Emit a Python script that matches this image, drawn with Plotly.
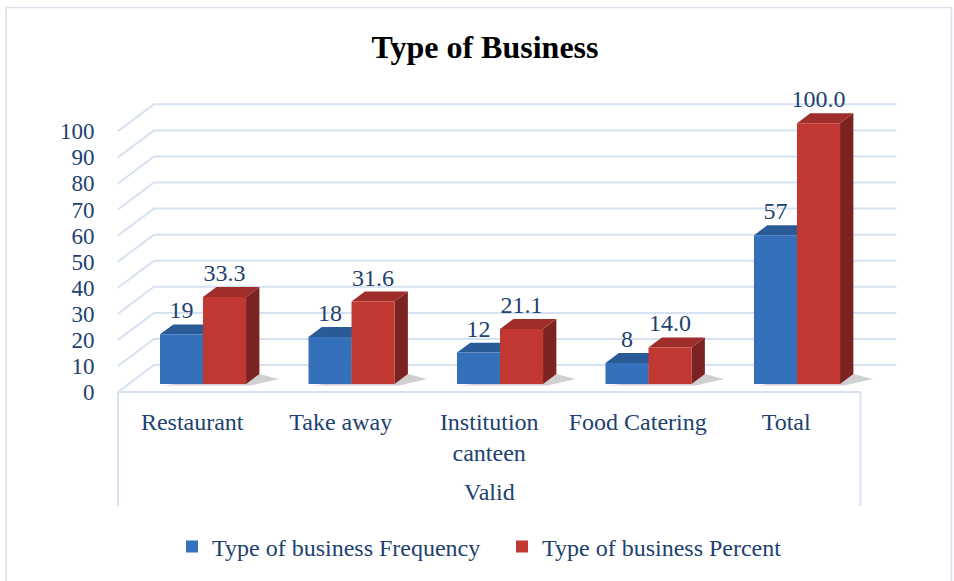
import plotly.graph_objects as go

# ---------------- data ----------------
CATEGORIES = ["Restaurant", "Take away", "Institution canteen", "Food Catering", "Total"]
TICK_LABELS = ["Restaurant", "Take away", "Institution<br>canteen", "Food Catering", "Total"]
GROUP_LABEL = "Valid"
FREQUENCY = [19, 18, 12, 8, 57]
PERCENT = [33.3, 31.6, 21.1, 14.0, 100.0]
SERIES_NAMES = ["Type of business Frequency", "Type of business Percent"]
Y_TICKS = list(range(0, 101, 10))
TITLE = "Type of Business"

# ---------------- geometry / style ----------------
W, H = 954, 581
FRONT_LEFT_PX = 118
X_UNIT_PX = 148.4
Y0_PX = 392
Y_UNIT_PX = 2.61
XMIN, XMAX = -0.52, 4.8
YMAX = 112

ml = FRONT_LEFT_PX - (-0.5 - XMIN) * X_UNIT_PX
pw = (XMAX - XMIN) * X_UNIT_PX
mr = W - ml - pw
mb = H - Y0_PX
ph = YMAX * Y_UNIT_PX
mt = H - mb - ph

DX = 36 / X_UNIT_PX          # depth vector (x units)
DY = 27 / Y_UNIT_PX          # depth vector (y units)
F1, F2 = 0.3, 0.67           # bar depth fractions
BW = 43 / X_UNIT_PX          # bar width
BASE = F1 * DY
dDX = (F2 - F1) * DX
dDY = (F2 - F1) * DY

FONT = "Liberation Serif, Times New Roman, serif"
TXT = "#21416F"
GRID = "#D6E1F2"
BLUE_FRONT, BLUE_TOP, BLUE_SIDE = "#3571BA", "#2B5B97", "#234B7E"
RED_FRONT, RED_TOP, RED_SIDE = "#C13832", "#9F2D2A", "#7A2320"

def px_to_paper_x(px):
    return (px - ml) / pw

def px_to_paper_y(py):
    return (Y0_PX - py) / ph

def path(points):
    return "M " + " L ".join(f"{x},{y}" for x, y in points) + " Z"

xs = list(range(len(CATEGORIES)))
shapes = []

# outer chart border
shapes.append(dict(type="rect", xref="paper", yref="paper",
                   x0=px_to_paper_x(6), x1=px_to_paper_x(951),
                   y0=px_to_paper_y(590), y1=px_to_paper_y(7),
                   line=dict(color="#D9E1EC", width=1.5), fillcolor="rgba(0,0,0,0)", layer="below"))

# 3D gridlines (side diagonal + back wall)
for v in Y_TICKS:
    shapes.append(dict(type="path", xref="x", yref="y",
                       path=f"M -0.5,{v} L {-0.5 + DX},{v + DY} L {4.5 + DX},{v + DY}",
                       line=dict(color=GRID, width=2), layer="below"))

# category box below the floor
box_bottom = px_to_paper_y(506)
shapes.append(dict(type="line", xref="x", yref="paper", x0=-0.5, x1=4.5, y0=0, y1=0,
                   line=dict(color=GRID, width=2), layer="below"))
for xv in (-0.5, 4.5):
    shapes.append(dict(type="line", xref="x", yref="paper", x0=xv, x1=xv, y0=0, y1=box_bottom,
                       line=dict(color=GRID, width=2), layer="below"))

# shadows, top and side faces of bars
for i, x in enumerate(xs):
    bx0 = x + F1 * DX - BW
    bx1 = x + F1 * DX
    rx1 = bx1 + BW
    shapes.append(dict(type="path", xref="x", yref="y",
                       path=path([(bx0 + 0.02, BASE - 0.6), (rx1 + 0.03, BASE - 0.6),
                                  (rx1 + dDX + 0.13, BASE + dDY * 0.5), (rx1 + dDX, BASE + dDY)]),
                       fillcolor="rgba(40,40,40,0.22)", line=dict(width=0), layer="below"))
    for x0, x1, val, top_c, side_c in ((bx0, bx1, FREQUENCY[i], BLUE_TOP, BLUE_SIDE),
                                       (bx1, rx1, PERCENT[i], RED_TOP, RED_SIDE)):
        top = BASE + val
        shapes.append(dict(type="path", xref="x", yref="y",
                           path=path([(x1, BASE), (x1, top), (x1 + dDX, top + dDY), (x1 + dDX, BASE + dDY)]),
                           fillcolor=side_c, line=dict(width=0), layer="below"))
        shapes.append(dict(type="path", xref="x", yref="y",
                           path=path([(x0, top), (x1, top), (x1 + dDX, top + dDY), (x0 + dDX, top + dDY)]),
                           fillcolor=top_c, line=dict(width=0), layer="below"))

fig = go.Figure()
fig.add_trace(go.Bar(name=SERIES_NAMES[0], x=xs, y=FREQUENCY, base=BASE, width=BW,
                     offset=F1 * DX - BW, marker=dict(color=BLUE_FRONT, line=dict(width=0)),
                     hoverinfo="skip"))
fig.add_trace(go.Bar(name=SERIES_NAMES[1], x=xs, y=PERCENT, base=BASE, width=BW,
                     offset=F1 * DX, marker=dict(color=RED_FRONT, line=dict(width=0)),
                     hoverinfo="skip"))

# data labels
fig.add_trace(go.Scatter(x=[x + F1 * DX - BW / 2 for x in xs],
                         y=[BASE + v + dDY for v in FREQUENCY],
                         text=[f"{v:.0f}" for v in FREQUENCY], mode="text",
                         textposition="top center", textfont=dict(family=FONT, size=24, color=TXT),
                         showlegend=False, hoverinfo="skip", cliponaxis=False))
fig.add_trace(go.Scatter(x=[x + F1 * DX + BW / 2 for x in xs],
                         y=[BASE + v + dDY for v in PERCENT],
                         text=[f"{v:.1f}" for v in PERCENT], mode="text",
                         textposition="top center", textfont=dict(family=FONT, size=24, color=TXT),
                         showlegend=False, hoverinfo="skip", cliponaxis=False))

fig.add_annotation(x=2, xref="x", y=px_to_paper_y(492), yref="paper", text=GROUP_LABEL,
                   showarrow=False, font=dict(family=FONT, size=24, color=TXT),
                   xanchor="center", yanchor="middle")

fig.update_layout(
    width=W, height=H,
    margin=dict(l=ml, r=mr, t=mt, b=mb, pad=0),
    paper_bgcolor="white", plot_bgcolor="rgba(0,0,0,0)",
    barmode="overlay",
    title=dict(text=f"<b>{TITLE}</b>", x=485 / W, xref="container", xanchor="center",
               y=1 - 47 / H, yref="container", yanchor="middle",
               font=dict(family=FONT, size=32, color="black")),
    legend=dict(orientation="h", xref="container", x=172 / W, xanchor="left",
                yref="container", y=1 - 547 / H, yanchor="middle", entrywidth=285,
                font=dict(family=FONT, size=24, color=TXT), bgcolor="rgba(0,0,0,0)"),
    shapes=shapes,
    showlegend=True,
)
fig.update_xaxes(range=[XMIN, XMAX], tickvals=xs, ticktext=TICK_LABELS, showgrid=False,
                 zeroline=False, showline=False, ticks="outside", ticklen=8,
                 tickcolor="rgba(0,0,0,0)", tickfont=dict(family=FONT, size=24, color=TXT))
fig.update_yaxes(range=[0, YMAX], tickvals=Y_TICKS, showgrid=False, zeroline=False,
                 showline=False, ticks="outside", ticklen=15, tickcolor="rgba(0,0,0,0)",
                 tickfont=dict(family=FONT, size=23, color=TXT))

fig.write_html("out.html", config={"displayModeBar": False},
               post_script="document.body.style.margin='0';")
